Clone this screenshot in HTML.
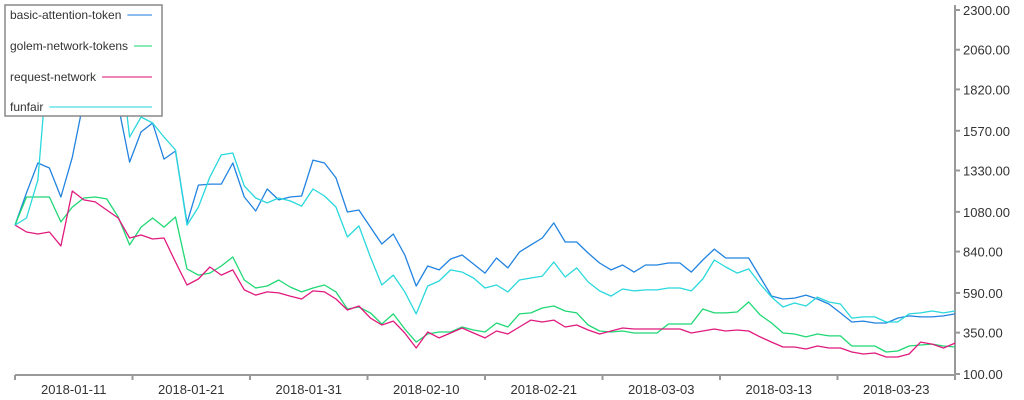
<!DOCTYPE html>
<html><head><meta charset="utf-8">
<style>
html,body{margin:0;padding:0;background:#fff;}
svg{display:block;font-family:"Liberation Sans",sans-serif;}
</style></head>
<body>
<svg id="chart" width="1024" height="400"></svg>
<script>
const categoriesStart = "2018-01-06";
const xTickLabels = ["2018-01-11","2018-01-21","2018-01-31","2018-02-10","2018-02-21","2018-03-03","2018-03-13","2018-03-23"];
const yTickLabels = [100,350,590,840,1080,1330,1570,1820,2060,2300];
const seriesNames = ["basic-attention-token","golem-network-tokens","request-network","funfair"];
const batValues = [1000,1195,1375,1345,1170,1410,1756,1998,1937,1726,1381,1563,1617,1399,1448,1013,1242,1248,1248,1375,1170,1085,1218,1152,1170,1176,1393,1375,1285,1079,1091,988,886,946,819,632,753,729,795,819,765,710,801,741,837,880,922,1013,898,898,831,771,729,759,716,759,759,771,771,716,789,855,801,801,801,686,571,553,559,577,553,523,469,414,420,408,408,438,451,445,445,451,463];
const golemValues = [1000,1170,1170,1170,1019,1109,1164,1170,1158,1049,880,988,1043,988,1049,735,698,710,753,807,668,620,632,668,626,596,620,638,596,493,505,469,402,463,372,293,342,354,354,384,366,354,408,384,463,469,499,511,481,469,396,360,354,360,348,348,348,402,402,402,493,469,469,475,535,457,408,348,342,324,342,330,330,269,269,269,233,239,269,275,281,269,263];
const requestValues = [1000,958,946,958,874,1206,1152,1140,1091,1043,922,940,916,922,777,638,674,747,698,729,608,577,596,590,571,553,602,596,553,487,511,438,396,420,348,257,354,318,348,378,348,318,360,342,384,426,414,426,384,396,366,342,360,378,372,372,372,372,372,348,360,372,360,366,360,324,293,263,263,251,269,257,257,233,221,227,203,203,221,293,281,257,287];
const funfairValues = [1000,1043,1273,2119,2058,1998,2058,2119,2028,2119,1532,1653,1617,1532,1454,1000,1109,1291,1424,1436,1236,1164,1134,1164,1146,1115,1218,1176,1109,928,995,807,638,698,596,463,632,662,729,716,680,620,638,596,668,680,692,777,686,741,656,602,571,614,602,608,608,620,620,602,674,789,747,710,735,644,565,505,529,511,565,535,523,438,445,445,414,414,463,469,481,469,481];

const NS="http://www.w3.org/2000/svg";
const svg=document.getElementById('chart');
const X0=15,X1=955,Y0=374,Y1=10,VMIN=100,VMAX=2300;
const N=batValues.length;
function xScale(i){return X0+(X1-X0)*i/(N-1);}
function yScale(v){return Y0-(v-VMIN)*(Y0-Y1)/(VMAX-VMIN);}
function mk(tag,attrs){const e=document.createElementNS(NS,tag);for(const k in attrs)e.setAttribute(k,attrs[k]);svg.appendChild(e);return e;}

// axes
let ax=mk('line',{x1:X0,y1:375,x2:X1,y2:375,stroke:'#999','stroke-width':2});


let ay=mk('line',{x1:X1,y1:5,x2:X1,y2:376,stroke:'#999','stroke-width':2});



// x ticks: every 10 days
const step=(X1-X0)/(N-1);
for(let k=0;k<=8;k++){
  const x=X0+k*10*step*(940/(10*step*8));
  const t=mk('line',{x1:x,y1:375,x2:x,y2:380,stroke:'#999','stroke-width':2});
  
  
}
xTickLabels.forEach((lab,k)=>{
  const x=X0+(k+0.5)*(940/8);
  const t=mk('text',{x:x,y:394,'text-anchor':'middle','font-size':13,fill:'#333'});
  t.textContent=lab;
  
  
});
yTickLabels.forEach(v=>{
  const y=yScale(v);
  const tk=mk('line',{x1:X1,y1:y,x2:X1+5,y2:y,stroke:'#999','stroke-width':2});
  
  
  const t=mk('text',{x:963,y:y+5,'font-size':13,fill:'#333'});
  t.textContent=v.toFixed(2);
  
  
});

const colors=['#2283e0','#1fd874','#e01a7e','#2ad8dc'];
const allSeries=[batValues,golemValues,requestValues,funfairValues];
const lineNames=['bat-line','golem-line','request-line','funfair-line'];
allSeries.forEach((vals,s)=>{
  const d=vals.map((v,i)=>(i?'L':'M')+xScale(i).toFixed(1)+','+yScale(v).toFixed(1)).join(' ');
  const p=mk('path',{d:d,fill:'none',stroke:colors[s],'stroke-width':1.3,'stroke-linejoin':'round'});
  
  
});

// legend
const lg=mk('rect',{x:5,y:5,width:157,height:111,fill:'#fff',stroke:'#888','stroke-width':1.5});


const legY=[15,46,77,107];
seriesNames.forEach((n,s)=>{
  const t=mk('text',{x:10,y:legY[s]+4,'font-size':12,fill:'#333'});
  t.textContent=n;
  
  
  const w=t.getComputedTextLength();
  const l=mk('line',{x1:10+w+6,y1:legY[s],x2:152,y2:legY[s],stroke:colors[s],'stroke-width':1.5,opacity:0.7});
  
  
});
</script>
</body></html>
